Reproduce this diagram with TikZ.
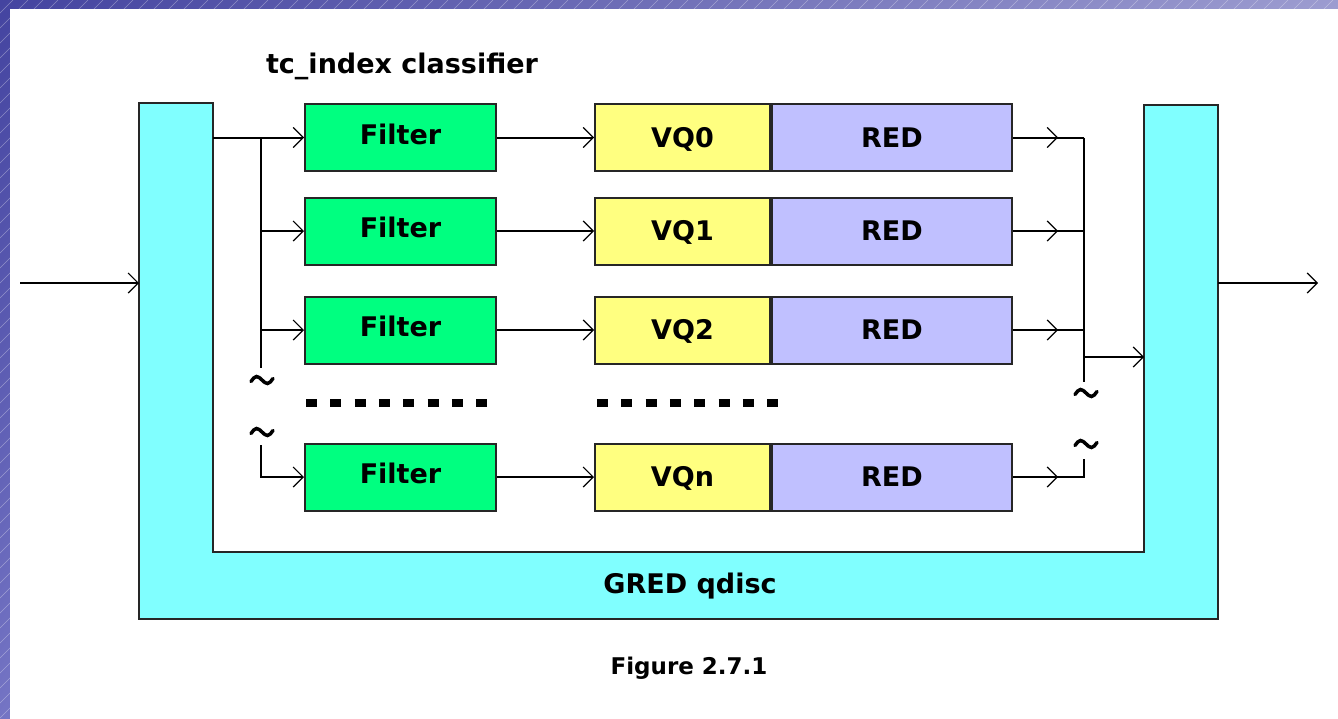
\documentclass[tikz,border=0pt]{standalone}
\usepackage{fontspec}
\setmainfont{DejaVu Sans}
\usetikzlibrary{arrows.meta,decorations.markings,shadings}
\definecolor{cyanf}{HTML}{80FFFF}
\definecolor{greenf}{HTML}{00FF80}
\definecolor{yellowf}{HTML}{FFFF80}
\definecolor{lavf}{HTML}{C0C0FF}
\definecolor{bgA}{HTML}{4444A0}
\definecolor{bgB}{HTML}{9C9CD0}
\definecolor{bgC}{HTML}{7474C4}
\begin{document}
\begin{tikzpicture}[x=1pt,y=-1pt,
  lbl/.style={font=\fontsize{27}{32}\selectfont\bfseries},
  box/.style={draw=black!85, line width=2pt, minimum height=67pt, inner sep=0pt,
    lbl, text height=19.7pt, text depth=0pt},
  filterbox/.style={box, fill=greenf, minimum width=191pt, text depth=6pt},
  vqbox/.style={box, fill=yellowf, minimum width=175pt},
  redbox/.style={box, fill=lavf, minimum width=240pt},
  wire/.style={line width=2pt, black},
  barb/.tip={Straight Barb[length=10pt,width=20pt,line width=1.2pt]},
  arr/.style={wire, -barb},
  midarr/.style={wire, postaction={decorate},
    decoration={markings, mark=at position 45pt with {\arrow{barb}}}},
  brk/.style={line width=3.5pt, line cap=round},
  dots/.style={line width=8pt, dash pattern=on 11pt off 13.3pt}
]
\useasboundingbox (0,0) rectangle (1338,718);
% slide background
\shade[upper left=bgA, upper right=bgB, lower left=bgC, lower right=white] (0,0) rectangle (1338,718);
\begin{scope}
  \clip (0,0) rectangle (1338,9) (0,0) rectangle (10,718);
  \foreach \i in {-720,-705,...,1340} \draw[white, opacity=0.35, line width=0.6pt] (\i,718) -- (\i+718,0);
\end{scope}
\fill[white] (10,9) rectangle (1350,730);

% GRED qdisc U shape
\draw[draw=black!85, line width=2pt, fill=cyanf]
  (139,103) -- (213,103) -- (213,552) -- (1144,552) -- (1144,105) -- (1218,105)
  -- (1218,619) -- (139,619) -- cycle;
\node[lbl, text height=19.7pt, text depth=0pt] (gred) at (690,584) {GRED qdisc};
\node[lbl, anchor=base] (tci) at (402,73) {tc\_index classifier};
\node[font=\fontsize{23}{28}\selectfont\bfseries, text height=16.8pt, text depth=0pt] (fig) at (689,666.5) {Figure 2.7.1};

% filters
\node[filterbox] (f0) at (400.5,137.5) {Filter};
\node[filterbox] (f1) at (400.5,231) {Filter};
\node[filterbox] (f2) at (400.5,330) {Filter};
\node[filterbox] (fn) at (400.5,477) {Filter};

% virtual queues
\node[vqbox] (vq0) at (682.5,137.5) {VQ0};
\node[vqbox] (vq1) at (682.5,231) {VQ1};
\node[vqbox] (vq2) at (682.5,330) {VQ2};
\node[vqbox] (vqn) at (682.5,477) {VQn};
\node[redbox, anchor=west] (r0) at (vq0.east) {RED};
\node[redbox, anchor=west] (r1) at (vq1.east) {RED};
\node[redbox, anchor=west] (r2) at (vq2.east) {RED};
\node[redbox, anchor=west] (rn) at (vqn.east) {RED};

% coordinates
\coordinate (src) at (20,283);
\coordinate (lpo) at (139,283);
\coordinate (lpi) at (213,137.5);
\coordinate (lb0) at (261,137.5);
\coordinate (lb1) at (261,231);
\coordinate (lb2) at (261,330);
\coordinate (lbbot) at (261,368);
\coordinate (lbn) at (261,445);
\coordinate (rb0) at (1084,137.5);
\coordinate (rb1) at (1084,231);
\coordinate (rb2) at (1084,330);
\coordinate (rbm) at (1084,357);
\coordinate (rbbot) at (1084,382);
\coordinate (rbn) at (1084,459);
\coordinate (rpi) at (1144,357);
\coordinate (rpo) at (1218,283);
\coordinate (dst) at (1318,283);

% input side
\draw[arr] (src) -- (lpo);
\draw[arr] (lpi) -- (f0.west);
\draw[wire] (lb0) -- (lbbot);
\draw[arr] (lb1) -- (f1.west);
\draw[arr] (lb2) -- (f2.west);
\draw[arr] (lbn) |- (fn.west);

% filter to queue
\draw[arr] (f0.east) -- (vq0.west);
\draw[arr] (f1.east) -- (vq1.west);
\draw[arr] (f2.east) -- (vq2.west);
\draw[arr] (fn.east) -- (vqn.west);

% output side
\draw[midarr] (r0.east) -- (rb0);
\draw[midarr] (r1.east) -- (rb1);
\draw[midarr] (r2.east) -- (rb2);
\draw[wire] (rb0) -- (rbbot);
\draw[arr] (rbm) -- (rpi);
\draw[midarr] (rn.east) -| (rbn);
\draw[arr] (rpo) -- (dst);

% breaks (tilde marks)
\foreach \x/\y in {262/380, 262/432, 1086/393, 1086/444}
  \draw[brk] (\x-11,\y+1.5) sin (\x-5.5,\y-3.5) cos (\x,\y) sin (\x+5.5,\y+3.5) cos (\x+11,\y-1.5);
\draw[dots] (306,403) -- (487,403);
\draw[dots] (597,403) -- (780,403);
\end{tikzpicture}
\end{document}
